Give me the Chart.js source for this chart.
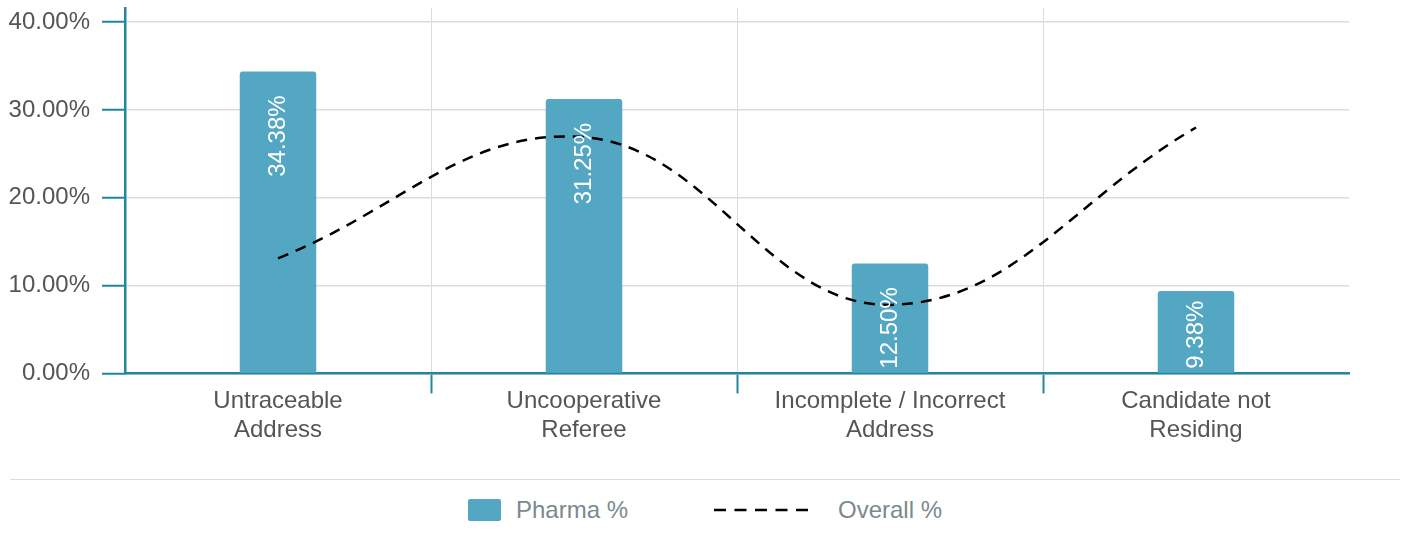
<!DOCTYPE html>
<html lang="en">
<head>
    <meta charset="UTF-8">
    <title>Discrepancy Reasons</title>
    <script src="https://cdn.jsdelivr.net/npm/chart.js"></script>
    <style>
        body {
            margin: 0;
            background: #fff;
            font-family: "Liberation Sans", Arial, sans-serif;
        }
        .chart-box {
            position: relative;
            width: 1407px;
            height: 470px;
        }
        .legend {
            margin: 9px 7px 0 10px;
            border-top: 1px solid #dcdcdc;
            height: 60px;
            display: flex;
            justify-content: center;
            align-items: center;
            font-size: 24px;
            color: #7b8a8f;
        }
        .legend-item {
            display: flex;
            align-items: center;
            margin: 0 43px;
        }
        .legend-item .swatch {
            width: 33px;
            height: 22px;
            border-radius: 2px;
            margin-right: 15px;
        }
        .legend-item canvas {
            margin-right: 30px;
        }
    </style>
</head>
<body>
    <div class="chart-box">
        <canvas id="reasonChart"></canvas>
    </div>
    <div class="legend" id="legend"></div>

    <script>
        // categories (wrapped onto two lines)
        const categories = [
            ['Untraceable', 'Address'],
            ['Uncooperative', 'Referee'],
            ['Incomplete / Incorrect', 'Address'],
            ['Candidate not', 'Residing']
        ];
        const pharmaPct = [34.38, 31.25, 12.50, 9.38];
        const overallPct = [13.1, 26.9, 7.8, 28.0];
        const yTicks = [0, 10, 20, 30, 40];

        const teal = '#23869b';
        const barColor = '#53a7c3';
        const gridColor = '#dcdcdc';

        Chart.defaults.font.family = '"Liberation Sans", Arial, sans-serif';
        Chart.defaults.font.size = 24;

        // white rotated value labels inside each bar
        const barLabels = {
            id: 'barLabels',
            afterDatasetsDraw(chart) {
                const ctx = chart.ctx;
                const meta = chart.getDatasetMeta(1);
                ctx.save();
                ctx.font = '24px "Liberation Sans", Arial, sans-serif';
                ctx.fillStyle = '#fff';
                ctx.textBaseline = 'middle';
                ctx.textAlign = 'right';
                meta.data.forEach((bar, i) => {
                    const text = pharmaPct[i].toFixed(2) + '%';
                    const w = ctx.measureText(text).width;
                    let top = bar.y + 24;
                    if (top + w > bar.base - 4) top = bar.base - 4 - w;
                    ctx.save();
                    ctx.translate(bar.x, top);
                    ctx.rotate(-Math.PI / 2);
                    ctx.fillText(text, 0, 0);
                    ctx.restore();
                });
                ctx.restore();
            }
        };

        const chart = new Chart(document.getElementById('reasonChart'), {
            type: 'bar',
            data: {
                labels: categories,
                datasets: [{
                    type: 'line',
                    label: 'Overall %',
                    data: overallPct,
                    borderColor: '#000',
                    borderWidth: 2.5,
                    borderDash: [11, 8],
                    pointRadius: 0,
                    tension: 0.4,
                    fill: false,
                    order: 1
                }, {
                    label: 'Pharma %',
                    data: pharmaPct,
                    backgroundColor: barColor,
                    borderRadius: 3,
                    categoryPercentage: 1,
                    barPercentage: 0.25,
                    order: 2
                }]
            },
            options: {
                responsive: true,
                maintainAspectRatio: false,
                animation: false,
                layout: {
                    padding: { left: 8, right: 58, top: 8, bottom: 23 }
                },
                plugins: {
                    legend: { display: false },
                    tooltip: { enabled: false }
                },
                scales: {
                    x: {
                        border: { color: teal, width: 2.5 },
                        // extra room so the second label line is not clipped
                        afterFit: scale => { scale.height += 8; },
                        grid: {
                            offset: true,
                            color: ctx => (ctx.type === 'tick' && ctx.index > 0) ? gridColor : 'transparent',
                            tickColor: ctx => (ctx.type === 'tick' && ctx.index > 0) ? teal : 'transparent',
                            tickWidth: 2,
                            tickLength: 20
                        },
                        ticks: {
                            color: '#555',
                            padding: -6,
                            maxRotation: 0,
                            font: { size: 24, lineHeight: 1.2 }
                        }
                    },
                    y: {
                        min: 0,
                        max: 41.6,
                        border: { color: teal, width: 2.5 },
                        afterBuildTicks: scale => {
                            scale.ticks = yTicks.map(v => ({ value: v }));
                        },
                        afterFit: scale => {
                            scale.width = 117;
                            scale.paddingTop = 0;
                            scale.paddingBottom = 0;
                        },
                        grid: {
                            color: gridColor,
                            lineWidth: 1.5,
                            tickColor: teal,
                            tickWidth: 2,
                            tickLength: 23
                        },
                        ticks: {
                            color: '#555',
                            padding: 12,
                            font: { size: 24 },
                            callback: v => v.toFixed(2) + '%'
                        }
                    }
                }
            },
            plugins: [barLabels]
        });

        // legend row below the chart
        function buildLegend() {
            const legend = document.getElementById('legend');
            const pharma = document.createElement('div');
            pharma.className = 'legend-item';
            const swatch = document.createElement('span');
            swatch.className = 'swatch';
            swatch.style.background = barColor;
            pharma.appendChild(swatch);
            pharma.appendChild(document.createTextNode('Pharma %'));

            const overall = document.createElement('div');
            overall.className = 'legend-item';
            const dash = document.createElement('canvas');
            dash.width = 94;
            dash.height = 22;
            const dctx = dash.getContext('2d');
            dctx.strokeStyle = '#000';
            dctx.lineWidth = 2.5;
            dctx.setLineDash([12, 8.5]);
            dctx.beginPath();
            dctx.moveTo(0, 11);
            dctx.lineTo(94, 11);
            dctx.stroke();
            overall.appendChild(dash);
            overall.appendChild(document.createTextNode('Overall %'));

            legend.appendChild(pharma);
            legend.appendChild(overall);
        }
        buildLegend();
    </script>
</body>
</html>
